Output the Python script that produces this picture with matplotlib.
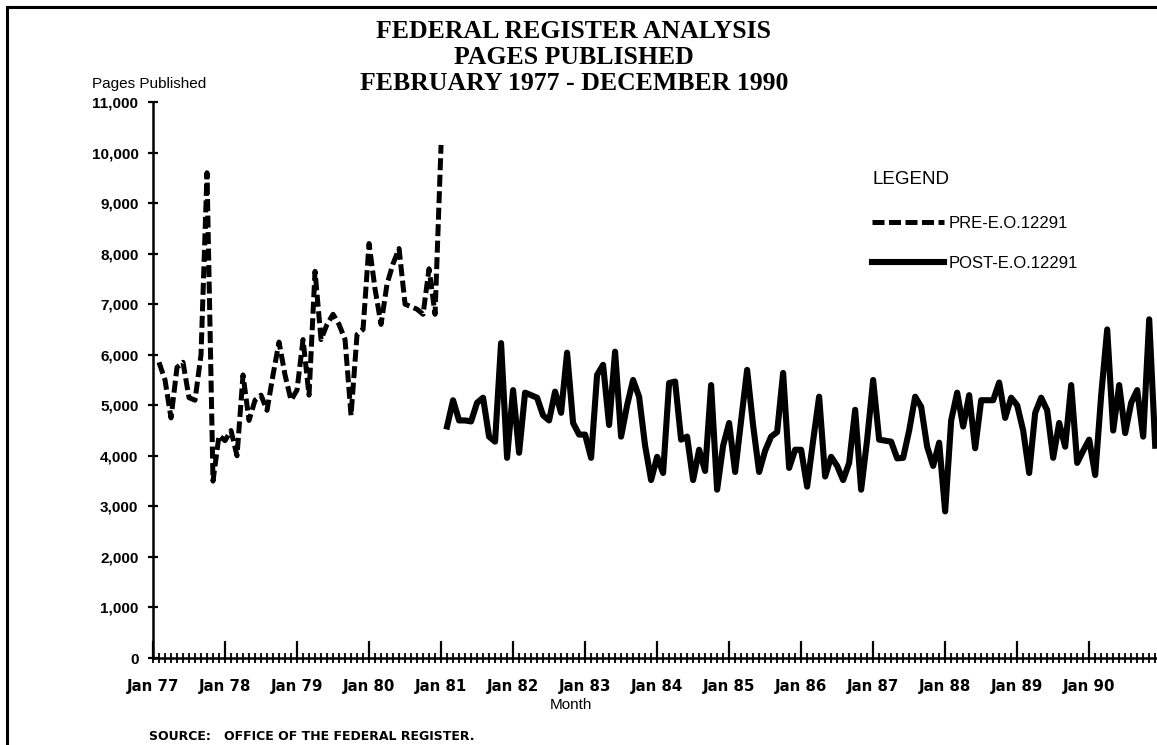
import matplotlib
matplotlib.use('Agg')
import matplotlib.pyplot as plt
import numpy as np
from matplotlib.ticker import MultipleLocator
from matplotlib.patches import Rectangle

# pages published per month
# pre E.O. 12291: Feb 1977 - Jan 1981
pre_1977 = [5850, 5500, 4750, 5750, 5850, 5150, 5100, 6000, 9600, 3500, 4400]
pre_1978 = [4300, 4500, 4000, 5600, 4700, 5100, 5200, 4900, 5600, 6250, 5600, 5100]
pre_1979 = [5300, 6300, 5200, 7650, 6300, 6600, 6800, 6600, 6300, 4800, 6400, 6500]
pre_1980 = [8200, 7300, 6600, 7400, 7800, 8100, 7000, 6950, 6900, 6800, 7700, 6800]
pre_1981 = [10150]

# post E.O. 12291: Feb 1981 - Dec 1990
post_1981 = [4580, 5100, 4700, 4700, 4680, 5050, 5150, 4380, 4280, 6230, 3960]
post_1982 = [5300, 4060, 5250, 5200, 5150, 4800, 4700, 5270, 4850, 6040, 4650, 4420]
post_1983 = [4420, 3960, 5600, 5800, 4610, 6060, 4380, 5000, 5500, 5170, 4200, 3520]
post_1984 = [3980, 3660, 5440, 5470, 4320, 4380, 3520, 4120, 3700, 5400, 3330, 4200]
post_1985 = [4650, 3680, 4700, 5700, 4600, 3680, 4100, 4380, 4470, 5640, 3760, 4120]
post_1986 = [4120, 3390, 4300, 5170, 3590, 3980, 3800, 3520, 3860, 4910, 3330, 4320]
post_1987 = [5500, 4320, 4300, 4280, 3950, 3960, 4500, 5170, 4970, 4180, 3800, 4260]
post_1988 = [2900, 4700, 5250, 4580, 5200, 4150, 5100, 5100, 5100, 5450, 4750, 5150]
post_1989 = [5000, 4500, 3660, 4850, 5150, 4900, 3960, 4650, 4180, 5400, 3860, 4100]
post_1990 = [4320, 3620, 5200, 6500, 4500, 5400, 4450, 5050, 5300, 4380, 6700, 4200]

year_labels = ['Jan 77', 'Jan 78', 'Jan 79', 'Jan 80', 'Jan 81', 'Jan 82', 'Jan 83',
               'Jan 84', 'Jan 85', 'Jan 86', 'Jan 87', 'Jan 88', 'Jan 89', 'Jan 90']

pre_values = pre_1977 + pre_1978 + pre_1979 + pre_1980 + pre_1981
post_values = (post_1981 + post_1982 + post_1983 + post_1984 + post_1985 + post_1986
               + post_1987 + post_1988 + post_1989 + post_1990)

# x = months since Jan 1977
pre_months = np.arange(1, 1 + len(pre_values))
post_months = np.arange(len(pre_values) + 1, len(pre_values) + 1 + len(post_values))

plt.rcParams['font.family'] = ['Liberation Sans', 'DejaVu Sans']

W, H = 1157, 745
fig = plt.figure(figsize=(W / 100, H / 100), dpi=100)
ax = fig.add_axes([153 / W, 87 / H, 1004 / W, 556 / H])

ax.plot(pre_months, pre_values, color='black', lw=3.6, dashes=(2.4, 0.9),
        label='PRE-E.O.12291')
ax.plot(post_months, post_values, color='black', lw=4.4, label='POST-E.O.12291')

ax.set_xlim(0, 167.3)
ax.set_ylim(0, 11000)

yticks = list(range(0, 11001, 1000))
ax.set_yticks(yticks)
ax.set_yticklabels([f'{v:,}' for v in yticks], fontweight='bold', fontsize=11)

ax.set_xticks(np.arange(0, 12 * len(year_labels), 12))
ax.set_xticklabels(year_labels, family='DejaVu Sans', fontweight='bold', fontsize=10.8)
ax.xaxis.set_minor_locator(MultipleLocator(1))
ax.xaxis.remove_overlapping_locs = False

ax.tick_params(axis='y', direction='inout', length=7, width=1.6, pad=7)
ax.tick_params(axis='x', which='major', direction='in', length=12, width=1.6, pad=15)
ax.tick_params(axis='x', which='minor', direction='inout', length=6.5, width=1.3)

for side in ['top', 'right']:
    ax.spines[side].set_visible(False)
for side in ['left', 'bottom']:
    ax.spines[side].set_linewidth(1.8)

leg = ax.legend(loc='upper left', bbox_to_anchor=(872 / W, 1 - 216 / H),
                bbox_transform=fig.transFigure, frameon=False, fontsize=12,
                handlelength=4.3, handletextpad=0.3, labelspacing=1.5,
                borderpad=0, borderaxespad=0)
fig.text(873 / W, 1 - 180 / H, 'LEGEND', ha='left', va='center', fontsize=13.5)

title_lines = ['FEDERAL REGISTER ANALYSIS', 'PAGES PUBLISHED', 'FEBRUARY 1977 - DECEMBER 1990']
for i, line in enumerate(title_lines):
    fig.text(574 / W, 1 - (31 + 26 * i) / H, line, ha='center', va='center',
             family='Liberation Serif', fontweight='bold', fontsize=18.5)

fig.text(149 / W, 1 - 84 / H, 'Pages Published', ha='center', va='center', fontsize=11)
fig.text(571 / W, 1 - 705 / H, 'Month', ha='center', va='center', fontsize=11)
fig.text(149 / W, 1 - 737 / H, 'SOURCE:   OFFICE OF THE FEDERAL REGISTER.', ha='left',
         va='center', family='DejaVu Sans', fontweight='bold', fontsize=9)

# frame around the page
fig.add_artist(Rectangle((7 / W, -0.05), 1.2, (H - 7) / H + 0.05, transform=fig.transFigure,
                         fill=False, lw=2.2, ec='black'))

fig.savefig('out.png', dpi=100)
